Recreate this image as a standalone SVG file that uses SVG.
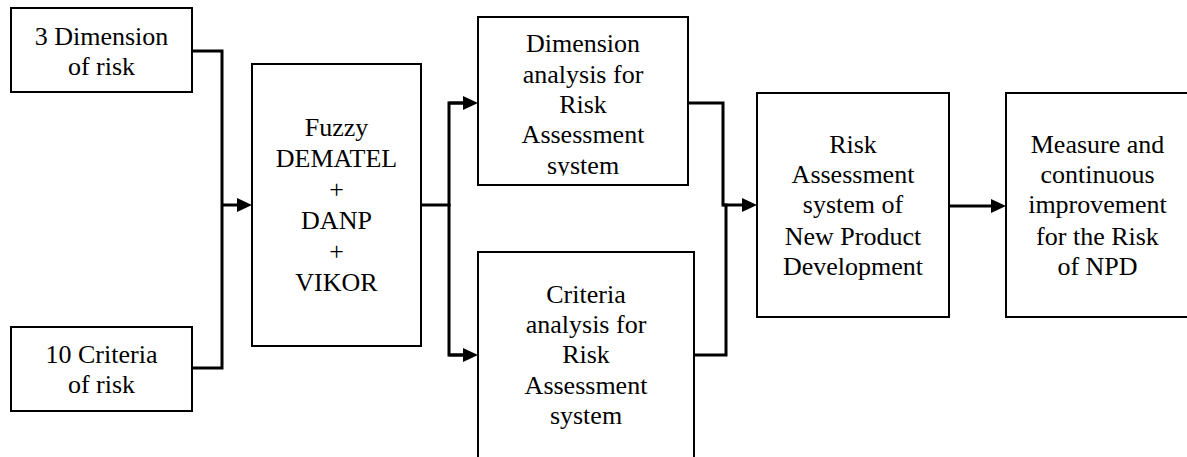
<svg xmlns="http://www.w3.org/2000/svg" width="1187" height="457" viewBox="0 0 1187 457">
  <style>
    .box { fill: #fff; stroke: #000; stroke-width: 2; }
    text { font-family: "Times New Roman", "Liberation Serif", Times, "Noto Serif", "DejaVu Serif", serif; font-size: 26px; fill: #000; text-anchor: middle; }
    .wire { fill: none; stroke: #000; stroke-width: 3; stroke-linejoin: miter; stroke-linecap: square; }
    .arrow { fill: none; stroke: #000; stroke-width: 3; stroke-linecap: butt; marker-end: url(#head); }
  </style>
  <defs>
    <marker id="head" markerUnits="userSpaceOnUse" viewBox="0 0 15 14" refX="7" refY="7" markerWidth="15" markerHeight="14" orient="auto">
      <path d="M0,0 L15,7 L0,14 Z" fill="#000"/>
    </marker>
    <clipPath id="clipDim">
      <rect x="478" y="17" width="210" height="158.5"/>
    </clipPath>
  </defs>
  <rect width="1187" height="457" fill="#fff"/>

  <g id="n-dimensions">
    <rect class="box" x="11" y="8" width="181" height="84"/>
    <text x="101.5" y="45">3 Dimension</text>
    <text x="101.5" y="75">of risk</text>
  </g>

  <g id="n-criteria">
    <rect class="box" x="11" y="327" width="181" height="84"/>
    <text x="101.5" y="363">10 Criteria</text>
    <text x="101.5" y="393">of risk</text>
  </g>

  <g id="n-methods">
    <rect class="box" x="252" y="64" width="169" height="282"/>
    <text x="336.5" y="136">Fuzzy</text>
    <text x="336.5" y="167">DEMATEL</text>
    <text x="336.5" y="198">+</text>
    <text x="336.5" y="229">DANP</text>
    <text x="336.5" y="260">+</text>
    <text x="336.5" y="291">VIKOR</text>
  </g>

  <g id="n-dim-analysis">
    <rect class="box" x="478" y="17" width="210" height="168"/>
    <g clip-path="url(#clipDim)">
      <text x="583" y="52">Dimension</text>
      <text x="583" y="83">analysis for</text>
      <text x="583" y="113">Risk</text>
      <text x="583" y="143">Assessment</text>
      <text x="583" y="174">system</text>
    </g>
  </g>

  <g id="n-crit-analysis">
    <rect class="box" x="478" y="252" width="216" height="220"/>
    <text x="586" y="303">Criteria</text>
    <text x="586" y="333">analysis for</text>
    <text x="586" y="363">Risk</text>
    <text x="586" y="394">Assessment</text>
    <text x="586" y="424">system</text>
  </g>

  <g id="n-assessment">
    <rect class="box" x="757" y="93" width="192" height="224"/>
    <text x="853" y="153">Risk</text>
    <text x="853" y="183">Assessment</text>
    <text x="853" y="213">system of</text>
    <text x="853" y="245">New Product</text>
    <text x="853" y="275">Development</text>
  </g>

  <g id="n-improvement">
    <rect class="box" x="1006" y="93" width="183" height="224"/>
    <text x="1097.5" y="153">Measure and</text>
    <text x="1097.5" y="183">continuous</text>
    <text x="1097.5" y="213">improvement</text>
    <text x="1097.5" y="245">for the Risk</text>
    <text x="1097.5" y="275">of NPD</text>
  </g>

  <g id="connectors">
    <!-- inputs merge into the method block -->
    <path class="wire" d="M193,51 H222 V368 H193"/>
    <path class="arrow" d="M222,205 H244"/>
    <!-- method block splits into the two analyses -->
    <path class="wire" d="M422,205 H449"/>
    <path class="wire" d="M470,103 H449 V355 H470"/>
    <path class="arrow" d="M449,103 H470"/>
    <path class="arrow" d="M449,355 H470"/>
    <!-- analyses merge into the assessment system -->
    <path class="wire" d="M689,103 H723 V205"/>
    <path class="wire" d="M695,355 H726 V205"/>
    <path class="arrow" d="M723,205 H749"/>
    <!-- assessment system to improvement -->
    <path class="arrow" d="M949,206 H998"/>
  </g>
</svg>
